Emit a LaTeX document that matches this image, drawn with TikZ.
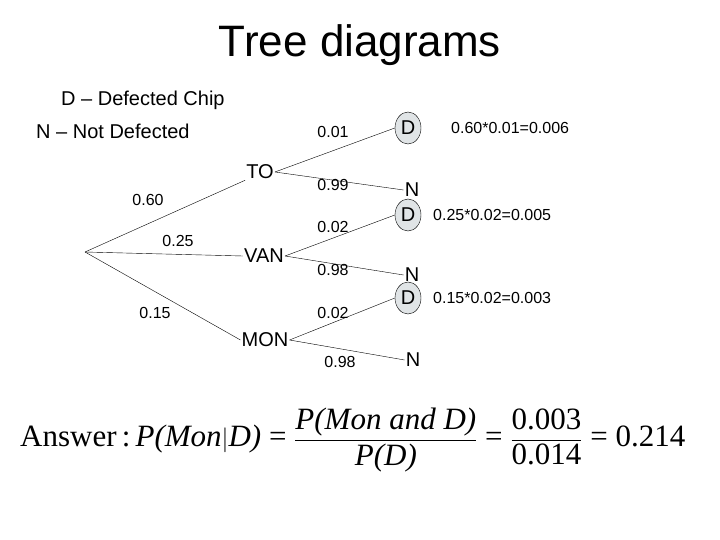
\documentclass[tikz,border=0pt]{standalone}
\usepackage{amsmath}
\usepackage{fontspec}
\setmainfont{Liberation Sans}
\newfontfamily\timesfont{Liberation Serif}
\usetikzlibrary{positioning,shapes.geometric}
\tikzstyle{lbl}=[font=\fontsize{20}{22}\selectfont, inner sep=1pt]
\tikzstyle{prob}=[font=\fontsize{16}{18}\selectfont, inner sep=1pt]
\tikzstyle{dnode}=[draw, ellipse, fill=cyan!10!gray!25, font=\fontsize{20}{22}\selectfont,
		minimum width=26pt, minimum height=32pt, inner sep=0pt]
\tikzstyle{nnode}=[font=\fontsize{20}{22}\selectfont, inner sep=1pt]
\begin{document}
\begin{tikzpicture}[x=1pt,y=-1pt]
	\useasboundingbox (0,0) rectangle (720,540);
	\node (title) at (360,45) {\fontsize{44}{48}\selectfont Tree diagrams};
	\node[lbl, anchor=west] (keyd) at (60,100) {D -- Defected Chip};
	\node[lbl, anchor=west] (keyn) at (35,131) {N -- Not Defected};
	% first stage
	\coordinate (root) at (85,252);
	\node[lbl] (to) at (260,172) {TO};
	\node[lbl] (van) at (264,256) {VAN};
	\node[lbl] (mon) at (265,340) {MON};
	\draw (root) -- (to.south west);
	\draw (root) -- (van.west);
	\draw (root) -- (mon.west);
	\node[prob] (p1) at (148,200) {0.60};
	\node[prob] (p2) at (178,241) {0.25};
	\node[prob] (p3) at (155,313) {0.15};
	% second stage
	\node[dnode] (d1) at (408,128) {D};
	\node[nnode] (n1) at (412,190) {N};
	\node[dnode] (d2) at (408,215) {D};
	\node[nnode] (n2) at (412,275) {N};
	\node[dnode] (d3) at (408,298) {D};
	\node[nnode] (n3) at (413,360) {N};
	\draw (to.east) -- (d1.west);
	\draw (to.east) -- (n1.west);
	\draw (van.east) -- (d2.west);
	\draw (van.east) -- (n2.west);
	\draw (mon.east) -- (d3.west);
	\draw (mon.east) -- (n3.west);
	\node[prob] (q1) at (333,132) {0.01};
	\node[prob] (q2) at (333,185) {0.99};
	\node[prob] (q3) at (333,227) {0.02};
	\node[prob] (q4) at (333,270) {0.98};
	\node[prob] (q5) at (333,313) {0.02};
	\node[prob] (q6) at (340,362) {0.98};
	% products
	\node[prob, anchor=west] (r1) at (450,128) {0.60*0.01=0.006};
	\node[prob, anchor=west] (r2) at (432,215) {0.25*0.02=0.005};
	\node[prob, anchor=west] (r3) at (432,298) {0.15*0.02=0.003};
	\node[anchor=west, inner sep=0pt] (answer) at (20,440)
		{\timesfont\fontsize{31}{34}\selectfont Answer\,:\,\textit{P(Mon$|$D)} =
		$\dfrac{\text{\textit{P(Mon and D)}}}{\text{\textit{P(D)}}}$ =
		$\dfrac{\text{0.003}}{\text{0.014}}$ = 0.214};
\end{tikzpicture}
\end{document}
